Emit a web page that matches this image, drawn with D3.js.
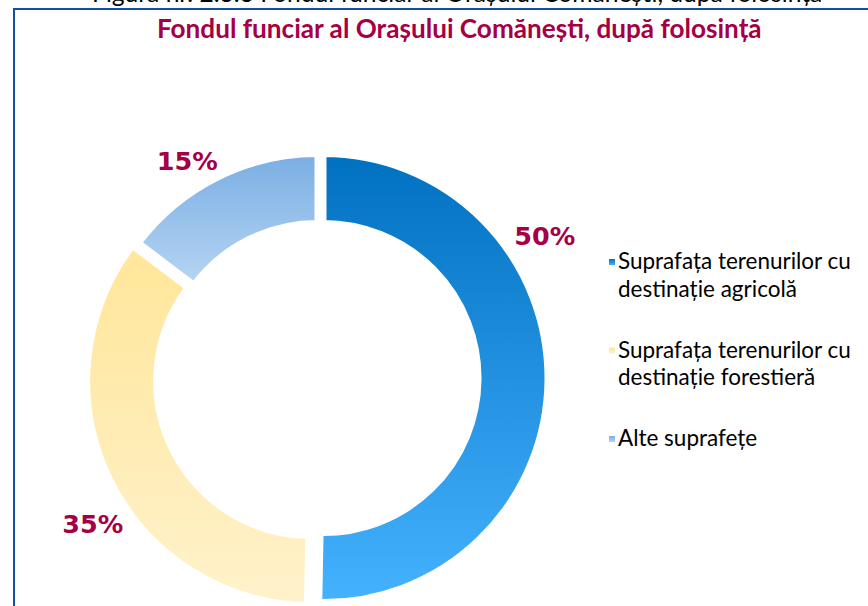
<!DOCTYPE html>
<html>
<head>
<meta charset="utf-8">
<script src="https://d3js.org/d3.v7.min.js"></script>
<style>
    body { margin: 0; background: #fff; }
    svg { display: block; }
</style>
</head>
<body>
<svg id="chart" width="868" height="606"></svg>
<script>
// data
var caption = "Figura nr. 2.3.3 Fondul funciar al Orașului Comănești, după folosința";
var title = "Fondul funciar al Orașului Comănești, după folosință";
var categories = [
    "Suprafața terenurilor cu destinație agricolă",
    "Suprafața terenurilor cu destinație forestieră",
    "Alte suprafețe"
];
var shares = [50.3, 35.0, 14.7];
var gradTop = ["#0070c0", "#ffe699", "#7aaee3"];
var gradBottom = ["#45b2ff", "#fff2cc", "#b6d5f3"];

window.onload = function () {
    var svg = d3.select("#chart");
    var font = "Lato, 'Open Sans', sans-serif";
    var red = "#a50044";

    //scale font-size so the text gets the wanted width
    function fitWidth(t, target) {
        var w = t.node().getComputedTextLength();
        var fs = parseFloat(t.attr("font-size"));
        t.attr("font-size", fs * target / w);
    }

    // gradients
    var defs = svg.append("defs");
    categories.forEach(function (c, i) {
        var g = defs.append("linearGradient")
            .attr("id", "grad" + i)
            .attr("x1", 0).attr("y1", 0).attr("x2", 0).attr("y2", 1);
        g.append("stop").attr("offset", "0%").attr("stop-color", gradTop[i]);
        g.append("stop").attr("offset", "100%").attr("stop-color", gradBottom[i]);
    });

    // caption above the frame (cut off by the page, as in the original)
    var cap = svg.append("text")
        .attr("x", 92)
        .attr("y", 2)
        .attr("font-family", font)
        .attr("font-size", 22)
        .attr("fill", "#000")
        .text(caption);
    fitWidth(cap, 731);

    // frame
    svg.append("rect")
        .attr("x", 14)
        .attr("y", 9)
        .attr("width", 900)
        .attr("height", 700)
        .attr("fill", "none")
        .attr("stroke", "#1150a5")
        .attr("stroke-width", 2);

    var t = svg.append("text")
        .attr("x", 157)
        .attr("y", 38)
        .attr("font-family", font)
        .attr("font-weight", "bold")
        .attr("font-size", 20)
        .attr("fill", red)
        .text(title);
    fitWidth(t, 605);

    // donut
    var cx = 317.5, cy = 378;
    var outerR = 224, innerR = 155;
    var explode = [6, 7, 0];

    var pie = d3.pie().sort(null).value(function (d) { return d; });
    var arc = d3.arc().innerRadius(innerR).outerRadius(outerR);
    var arcs = pie(shares);

    var g = svg.append("g").attr("transform", "translate(" + cx + "," + cy + ")");
    g.selectAll("path")
        .data(arcs)
        .enter()
        .append("path")
        .attr("d", arc)
        .attr("transform", function (d, i) {
            var a = (d.startAngle + d.endAngle) / 2;
            return "translate(" + Math.sin(a) * explode[i] + "," + (-Math.cos(a) * explode[i]) + ")";
        })
        .attr("fill", function (d, i) { return "url(#grad" + i + ")"; })
        .attr("stroke", "#fff")
        .attr("stroke-width", 6);

    // percentage labels, placed by hand like in the original
    var labelAngle = [58, 237, 329];
    var labelRadius = [268, 268, 253];
    g.selectAll("text.pct")
        .data(arcs)
        .enter()
        .append("text")
        .attr("class", "pct")
        .attr("x", function (d, i) { return Math.sin(labelAngle[i] * Math.PI / 180) * labelRadius[i]; })
        .attr("y", function (d, i) { return -Math.cos(labelAngle[i] * Math.PI / 180) * labelRadius[i]; })
        .attr("dy", "0.36em")
        .attr("text-anchor", "middle")
        .attr("font-family", "'DejaVu Sans', sans-serif")
        .attr("font-weight", "bold")
        .attr("font-size", 24)
        .attr("fill", red)
        .text(function (d) { return Math.round(d.value) + "%"; })
        .each(function () { fitWidth(d3.select(this), 61); });

    // legend
    var legend = svg.append("g").attr("transform", "translate(609,269)");
    var probe = legend.append("text")
        .attr("font-family", font)
        .attr("font-size", 20)
        .text("Suprafața terenurilor cu");
    fitWidth(probe, 233);
    var legendSize = parseFloat(probe.attr("font-size"));
    probe.remove();

    var item = legend.selectAll("g")
        .data(categories)
        .enter()
        .append("g")
        .attr("transform", function (d, i) { return "translate(0," + (i * 88.5) + ")"; });

    item.append("rect")
        .attr("x", 0)
        .attr("y", -10)
        .attr("width", 6)
        .attr("height", 6)
        .attr("fill", function (d, i) { return "url(#grad" + i + ")"; });

    item.append("text")
        .attr("font-family", font)
        .attr("font-size", legendSize)
        .attr("fill", "#000")
        .each(function (d) {
            var txt = d3.select(this);
            var words = d.split(" ");
            var line = [];
            var lineNo = 0;
            var span = txt.append("tspan").attr("x", 9).attr("y", 0);
            words.forEach(function (w) {
                line.push(w);
                span.text(line.join(" "));
                if (span.node().getComputedTextLength() > 245 && line.length > 1) {
                    line.pop();
                    span.text(line.join(" "));
                    line = [w];
                    lineNo++;
                    span = txt.append("tspan").attr("x", 9).attr("y", lineNo * 27.5).text(w);
                }
            });
        });
};
</script>
</body>
</html>
